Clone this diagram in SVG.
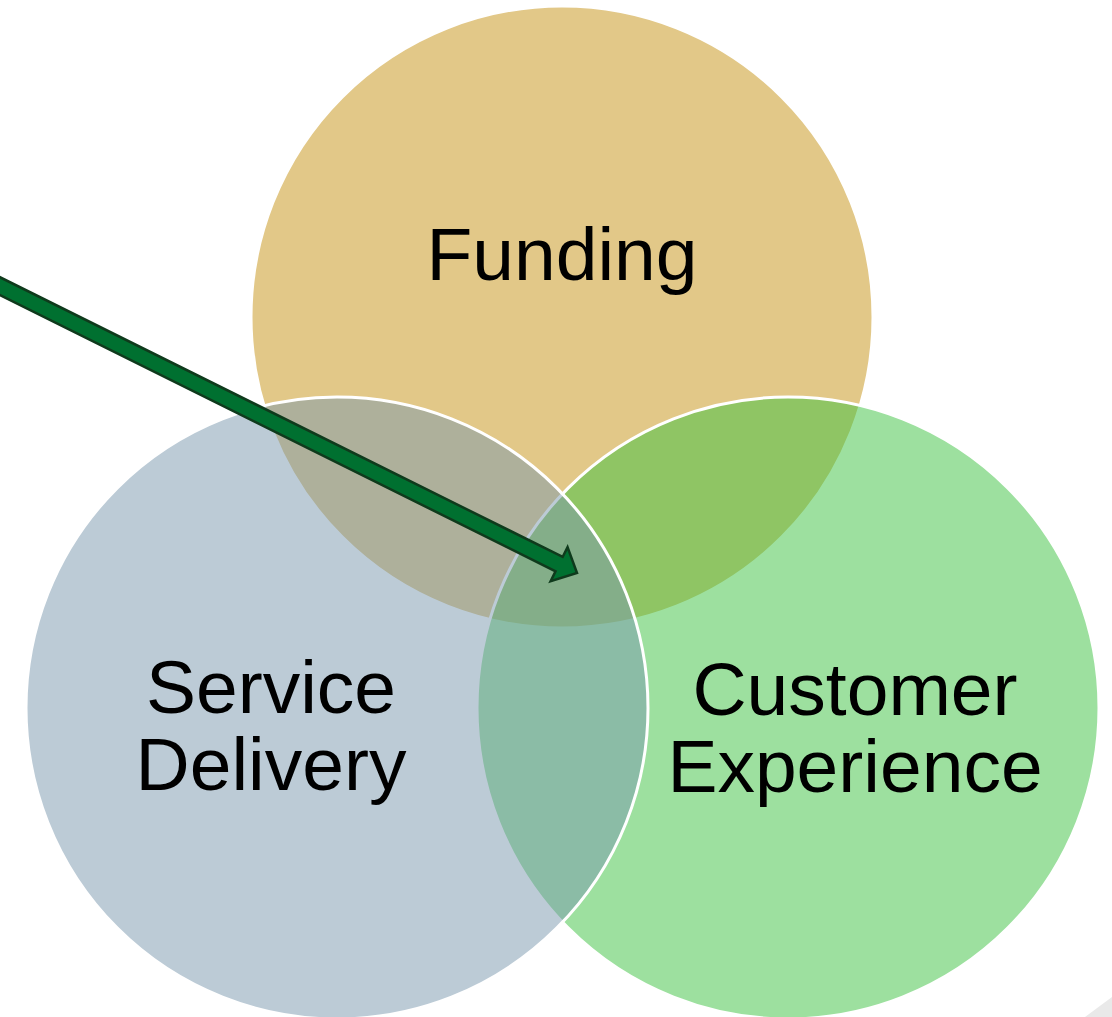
<svg xmlns="http://www.w3.org/2000/svg" width="1112" height="1017" viewBox="0 0 1112 1017">
  <style>
    .circle { stroke: #ffffff; stroke-width: 3; }
    .label { font-family: "Liberation Sans", Arial, sans-serif; font-size: 75px; fill: #000000; text-anchor: middle; }
    .arrow { fill: #007030; stroke: #0f3a1c; stroke-width: 2.5; stroke-linejoin: miter; }
  </style>
  <rect width="1112" height="1017" fill="#ffffff"/>
  <polygon points="1085,1017 1112,997 1112,1017" fill="#e9e9e9"/>
  <g id="funding">
    <circle class="circle" cx="562" cy="317" r="311" fill="#e2c888"/>
    <text class="label" x="562" y="280">Funding</text>
  </g>
  <g id="customer-experience">
    <circle class="circle" cx="788" cy="708" r="311" fill="rgb(59,193,63)" fill-opacity="0.5"/>
    <text class="label" x="855" y="715">Customer</text>
    <text class="label" x="855" y="792">Experience</text>
  </g>
  <g id="service-delivery">
    <circle class="circle" cx="337" cy="708" r="311" fill="rgb(121,151,173)" fill-opacity="0.5"/>
    <text class="label" x="271" y="713">Service</text>
    <text class="label" x="271" y="790">Delivery</text>
  </g>
  <g id="connectors">
    <path class="arrow" transform="translate(577,573) rotate(26.43)" d="M0,0 L-20,-19 L-20,-8 L-680,-8 L-680,8 L-20,8 L-20,19 Z"/>
  </g>
</svg>
